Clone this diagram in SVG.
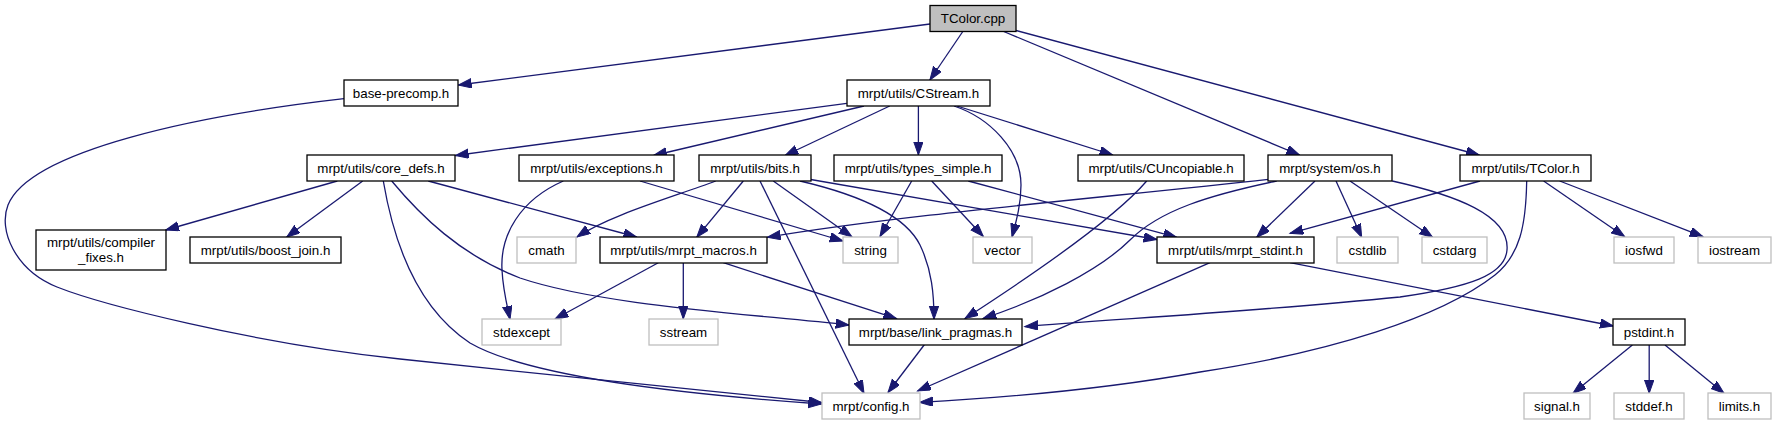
<svg xmlns="http://www.w3.org/2000/svg" width="1777" height="425" viewBox="0 0 1777 425">
<style>
.nd rect{fill:#ffffff;stroke:#000000;stroke-width:1.3}
.ext rect{fill:#ffffff;stroke:#bfbfbf;stroke-width:1.3}
.cur rect{fill:#bfbfbf;stroke:#000000;stroke-width:1.3}
text{font-family:"Liberation Sans",Arial,Helvetica,sans-serif;font-size:13.33px;fill:#000000;text-anchor:middle}
#edges path{fill:none;stroke:#191970;stroke-width:1.3;marker-end:url(#ah)}
</style>
<defs>
<marker id="ah" markerUnits="userSpaceOnUse" markerWidth="15" markerHeight="11" refX="13.3" refY="4.7" orient="auto" viewBox="0 0 15 11">
<path d="M0,0 L13.3,4.7 L0,9.4 Z" fill="#191970" stroke="#191970" stroke-width="1"/>
</marker>
</defs>
<rect x="0" y="0" width="1777" height="425" fill="#ffffff"/>
<g id="edges">
<path d="M930,24 L458.4,85"/>
<path d="M962.8,31.5 L929.9,80"/>
<path d="M1003.7,31.5 L1299.5,155"/>
<path d="M1016,30.5 L1479.3,155"/>
<path d="M344,98.7 C200,115 30,150 8,205 C-2,230 15,270 57,287 C100,304 250,343 400,359 C550,375 720,392 821.6,402.5"/>
<path d="M846.8,103.3 L455.4,155.5"/>
<path d="M864,106 L653.6,155.5"/>
<path d="M889.7,106 L785,155.5"/>
<path d="M918.4,106 L918.4,155"/>
<path d="M954,106 C990,118 1021,150 1021,185 C1021,205 1016,222 1012,237"/>
<path d="M957,106 L1112.8,155"/>
<path d="M337.3,181 L165.7,230"/>
<path d="M362.7,181 L286.7,237"/>
<path d="M428.3,181 L636.7,237"/>
<path d="M391.7,181 C420,215 460,255 520,278 C600,305 740,313 849,325"/>
<path d="M383.3,181 C395,250 420,310 470,343 C520,372 650,392 821.6,404"/>
<path d="M563.3,181 C520,200 500,235 502,270 C503,290 507,305 510,319.3"/>
<path d="M640,181 L843,241"/>
<path d="M715.7,181 C670,198 610,215 577,237"/>
<path d="M743.3,181 L696.7,237.3"/>
<path d="M773.3,181 L852,237"/>
<path d="M800,181 C860,195 905,215 920,245 C932,270 934,295 934,319.3"/>
<path d="M760,181 L864,393.3"/>
<path d="M810.7,179.5 L1157,239.5"/>
<path d="M911.7,181 L880,236.5"/>
<path d="M931.7,181 L983.3,236.5"/>
<path d="M968.3,181 L1176.7,237.3"/>
<path d="M1146.7,181 C1115,218 1040,270 965,318.5"/>
<path d="M1276.7,181 C1210,195 1160,210 1130,240 C1100,270 1040,300 983,318.5"/>
<path d="M1268.3,179.3 C1100,198 900,215 767.3,237.3"/>
<path d="M1315,181 L1256.7,237.3"/>
<path d="M1336,181 L1361.7,237.3"/>
<path d="M1350,181 L1432.7,237.3"/>
<path d="M1392.3,181 C1455,195 1510,215 1507,250 C1505,275 1470,287 1400,297 C1250,312 1100,320 1024.8,326.7"/>
<path d="M1480,181 L1290,233.3"/>
<path d="M1526.7,181 C1526,225 1520,255 1495,275 C1440,318 1330,352 1200,372 C1100,390 1000,398 919.5,402.3"/>
<path d="M1543.6,181 L1624.7,236.7"/>
<path d="M1559.7,181 L1703,236.7"/>
<path d="M658.3,262.7 L555,319"/>
<path d="M683.3,262.7 L683.3,319"/>
<path d="M723.3,262.7 L896.7,318.7"/>
<path d="M1210,262.7 L917.6,391"/>
<path d="M1290,262.7 L1613.3,326"/>
<path d="M924.5,344.5 L888,392.5"/>
<path d="M1632.4,345 L1573,393.3"/>
<path d="M1649.2,345 L1649.2,393.3"/>
<path d="M1665,345 L1724,393.3"/>
</g>
<g id="n_tcolor_cpp" class="cur"><rect x="930" y="5.5" width="86" height="26"/><text x="973" y="23.2">TColor.cpp</text></g>
<g id="n_base_precomp" class="nd"><rect x="344" y="80" width="114" height="26"/><text x="401" y="97.7">base-precomp.h</text></g>
<g id="n_cstream" class="nd"><rect x="847" y="80" width="143" height="26"/><text x="918.5" y="97.7">mrpt/utils/CStream.h</text></g>
<g id="n_core_defs" class="nd"><rect x="307" y="155" width="148" height="26"/><text x="381" y="172.7">mrpt/utils/core_defs.h</text></g>
<g id="n_exceptions" class="nd"><rect x="519" y="155" width="155" height="26"/><text x="596.5" y="172.7">mrpt/utils/exceptions.h</text></g>
<g id="n_bits" class="nd"><rect x="699" y="155" width="112" height="26"/><text x="755" y="172.7">mrpt/utils/bits.h</text></g>
<g id="n_types_simple" class="nd"><rect x="834" y="155" width="168" height="26"/><text x="918" y="172.7">mrpt/utils/types_simple.h</text></g>
<g id="n_cuncopiable" class="nd"><rect x="1078" y="155" width="166" height="26"/><text x="1161" y="172.7">mrpt/utils/CUncopiable.h</text></g>
<g id="n_os" class="nd"><rect x="1268" y="155" width="124" height="26"/><text x="1330" y="172.7">mrpt/system/os.h</text></g>
<g id="n_tcolor_h" class="nd"><rect x="1460" y="155" width="131" height="26"/><text x="1525.5" y="172.7">mrpt/utils/TColor.h</text></g>
<g id="n_compiler_fixes" class="nd"><rect x="36" y="230" width="130" height="40"/><text x="101" y="247">mrpt/utils/compiler</text><text x="101" y="261.5">_fixes.h</text></g>
<g id="n_boost_join" class="nd"><rect x="190" y="237" width="151" height="26"/><text x="265.5" y="254.7">mrpt/utils/boost_join.h</text></g>
<g id="n_cmath" class="ext"><rect x="517" y="237" width="59" height="26"/><text x="546.5" y="254.7">cmath</text></g>
<g id="n_mrpt_macros" class="nd"><rect x="600" y="237" width="167" height="26"/><text x="683.5" y="254.7">mrpt/utils/mrpt_macros.h</text></g>
<g id="n_string" class="ext"><rect x="843" y="237" width="55" height="26"/><text x="870.5" y="254.7">string</text></g>
<g id="n_vector" class="ext"><rect x="973" y="237" width="59" height="26"/><text x="1002.5" y="254.7">vector</text></g>
<g id="n_mrpt_stdint" class="nd"><rect x="1157" y="237" width="157" height="26"/><text x="1235.5" y="254.7">mrpt/utils/mrpt_stdint.h</text></g>
<g id="n_cstdlib" class="ext"><rect x="1337" y="237" width="61" height="26"/><text x="1367.5" y="254.7">cstdlib</text></g>
<g id="n_cstdarg" class="ext"><rect x="1422" y="237" width="65" height="26"/><text x="1454.5" y="254.7">cstdarg</text></g>
<g id="n_iosfwd" class="ext"><rect x="1614" y="237" width="60" height="26"/><text x="1644" y="254.7">iosfwd</text></g>
<g id="n_iostream" class="ext"><rect x="1698" y="237" width="73" height="26"/><text x="1734.5" y="254.7">iostream</text></g>
<g id="n_stdexcept" class="ext"><rect x="482" y="319" width="79" height="26"/><text x="521.5" y="336.7">stdexcept</text></g>
<g id="n_sstream" class="ext"><rect x="649" y="319" width="69" height="26"/><text x="683.5" y="336.7">sstream</text></g>
<g id="n_link_pragmas" class="nd"><rect x="849" y="319" width="173" height="26"/><text x="935.5" y="336.7">mrpt/base/link_pragmas.h</text></g>
<g id="n_pstdint" class="nd"><rect x="1613" y="319" width="72" height="26"/><text x="1649" y="336.7">pstdint.h</text></g>
<g id="n_config" class="ext"><rect x="822" y="393" width="98" height="26"/><text x="871" y="410.7">mrpt/config.h</text></g>
<g id="n_signal" class="ext"><rect x="1524" y="393" width="66" height="26"/><text x="1557" y="410.7">signal.h</text></g>
<g id="n_stddef" class="ext"><rect x="1614" y="393" width="70" height="26"/><text x="1649" y="410.7">stddef.h</text></g>
<g id="n_limits" class="ext"><rect x="1708" y="393" width="63" height="26"/><text x="1739.5" y="410.7">limits.h</text></g>
</svg>
